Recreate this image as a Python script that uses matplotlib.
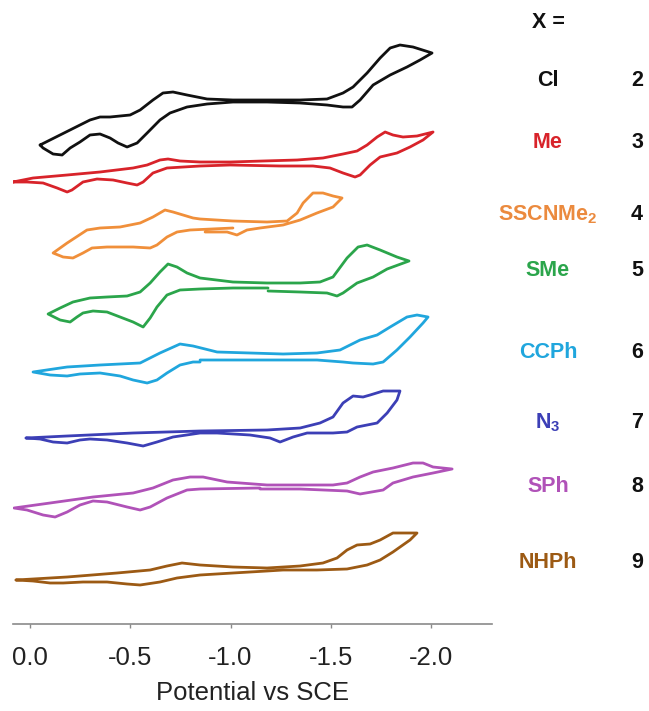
import matplotlib
matplotlib.use("Agg")
import matplotlib.pyplot as plt

plt.rcParams['font.family'] = ['Liberation Sans', 'DejaVu Sans']
plt.rcParams['mathtext.fontset'] = 'custom'
plt.rcParams['mathtext.rm'] = 'Liberation Sans:bold'
plt.rcParams['mathtext.bf'] = 'Liberation Sans:bold'

# ---- data: potential (V vs SCE) and current (arbitrary units, relative to each trace's baseline)
cl_E = [-0.050, -0.299, -0.349, -0.399, -0.499, -0.549, -0.613, -0.663, -0.713, -0.783, -0.883, -1.012, -1.182,
        -1.347, -1.481, -1.561, -1.611, -1.681, -1.746, -1.796, -1.845, -1.910, -2.005,
        -1.945, -1.880, -1.796, -1.711, -1.646, -1.606, -1.561, -1.481, -1.347, -1.182, -1.012, -0.883, -0.783,
        -0.698, -0.648, -0.584, -0.534, -0.484, -0.439, -0.399, -0.349, -0.299, -0.249, -0.200, -0.160, -0.115,
        -0.065, -0.050]
cl_I = [-44, -19, -16, -16, -14, -9, 1, 8, 9, 6, 2, 1, 1,
        1, 2, 8, 14, 28, 43, 53, 56, 54, 48,
        41, 34, 26, 16, 1, -6, -6, -4, -2, -1, -1, -3, -6,
        -12, -19, -32, -42, -46, -42, -37, -33, -34, -41, -47, -54, -53,
        -47, -44]

me_E = [0.085, -0.015, -0.185, -0.349, -0.514, -0.584, -0.648, -0.688, -0.748, -0.848, -0.998, -1.162, -1.332,
        -1.461, -1.561, -1.631, -1.681, -1.731, -1.771, -1.810, -1.860, -1.930, -2.010,
        -1.960, -1.895, -1.830, -1.746, -1.696, -1.646, -1.621, -1.561, -1.496, -1.411, -1.247, -0.998, -0.848,
        -0.683, -0.613, -0.564, -0.534, -0.484, -0.414, -0.334, -0.264, -0.209, -0.185, -0.135, -0.065, 0.015,
        0.085]
me_I = [-19, -15, -12, -9, -5, -2, 3, 4, 2, 1, 1, 2, 3,
        5, 9, 12, 18, 26, 31, 28, 26, 27, 31,
        23, 16, 10, 6, -2, -12, -14, -10, -5, -3, -3, -2, -3,
        -5, -10, -19, -22, -20, -17, -16, -19, -27, -29, -25, -20, -19,
        -19]

sscnme2_E = [-0.873, -0.983, -1.032, -1.082, -1.147, -1.262, -1.347, -1.431, -1.511, -1.556,
             -1.511, -1.461, -1.411, -1.362, -1.332, -1.282, -1.182, -1.012, -0.848, -0.813, -0.713, -0.673,
             -0.613, -0.549, -0.449, -0.349, -0.284, -0.185, -0.115,
             -0.165, -0.214, -0.264, -0.309, -0.384, -0.514, -0.599, -0.633, -0.683, -0.733, -0.798, -1.012]
sscnme2_I = [-7, -7, -10, -5, -3, 0, 5, 12, 18, 27,
             29, 32, 32, 22, 12, 4, 3, 4, 6, 7, 13, 15,
             8, 2, -2, -3, -5, -18, -28,
             -32, -33, -28, -23, -22, -22, -23, -20, -12, -7, -5, -3]

sme_E = [-1.187, -1.347, -1.481, -1.531, -1.561, -1.631, -1.711, -1.781, -1.890,
         -1.830, -1.746, -1.681, -1.636, -1.581, -1.511, -1.446, -1.347, -1.182, -1.012, -0.848, -0.783, -0.733,
         -0.688, -0.648, -0.599, -0.549, -0.484, -0.384, -0.299, -0.214, -0.150, -0.090,
         -0.150, -0.200, -0.234, -0.264, -0.314, -0.384, -0.449, -0.514, -0.564, -0.599, -0.633, -0.683, -0.748,
         -0.848, -1.012, -1.187]
sme_I = [-5, -6, -7, -10, -7, 3, 9, 17, 25,
         29, 36, 41, 39, 28, 9, 4, 3, 3, 4, 8, 13, 19,
         22, 14, 3, -6, -10, -11, -12, -16, -22, -28,
         -34, -36, -31, -27, -25, -26, -31, -36, -41, -32, -21, -9, -4,
         -3, -2, -2]

ccph_E = [-0.848, -1.182, -1.431, -1.561, -1.611, -1.711, -1.761, -1.830, -1.895, -1.960, -1.985,
          -1.930, -1.880, -1.796, -1.731, -1.646, -1.546, -1.431, -1.262, -1.097, -0.933, -0.813, -0.748,
          -0.648, -0.549, -0.349, -0.185, -0.015,
          -0.100, -0.185, -0.249, -0.349, -0.449, -0.514, -0.584, -0.633, -0.683, -0.748, -0.813, -0.848]
ccph_I = [-3, -3, -3, -5, -6, -7, -5, 7, 20, 34, 40,
          42, 40, 30, 22, 17, 7, 4, 3, 4, 5, 11, 13,
          4, -6, -8, -10, -15,
          -18, -19, -17, -16, -19, -23, -26, -23, -16, -8, -5, -5]

n3_E = [0.020, -0.185, -0.514, -0.848, -1.182, -1.347, -1.446, -1.511, -1.561, -1.611, -1.661, -1.696,
        -1.761, -1.845,
        -1.830, -1.781, -1.731, -1.631, -1.581, -1.511, -1.382, -1.312, -1.247, -1.197, -1.097, -0.933,
        -0.848, -0.713, -0.633, -0.564, -0.484, -0.384, -0.299, -0.249, -0.185, -0.115, -0.050, 0.020]
n3_I = [-6, -4, -1, 1, 2, 4, 9, 15, 29, 36, 35, 37,
        41, 41,
        32, 19, 9, 5, 0, -1, -1, -5, -10, -6, -3, -1,
        -1, -5, -10, -14, -11, -8, -7, -8, -11, -10, -7, -6]

sph_E = [-1.147, -1.347, -1.581, -1.646, -1.761, -1.810, -1.910, -2.010, -2.105,
         -2.010, -1.960, -1.910, -1.810, -1.711, -1.646, -1.581, -1.511, -1.182, -0.983, -0.863, -0.798,
         -0.713, -0.613, -0.514, -0.314, -0.100, 0.080,
         0.015, -0.065, -0.125, -0.185, -0.249, -0.314, -0.384, -0.484, -0.549, -0.599, -0.683, -0.783,
         -0.848, -1.147]
sph_I = [-2, -2, -4, -7, -3, 4, 10, 14, 18,
         20, 24, 24, 19, 15, 10, 4, 2, 2, 5, 10, 10,
         7, -1, -6, -10, -16, -21,
         -23, -28, -30, -25, -18, -14, -15, -20, -23, -20, -11, -3,
         -2, -1]

nhph_E = [0.070, -0.185, -0.434, -0.599, -0.683, -0.758, -0.848, -1.012, -1.182, -1.347, -1.461, -1.531,
          -1.581, -1.631, -1.696, -1.746, -1.810, -1.860, -1.930,
          -1.895, -1.810, -1.746, -1.681, -1.581, -1.431, -1.262, -1.182, -1.012, -0.848, -0.733, -0.648,
          -0.549, -0.484, -0.384, -0.264, -0.165, -0.100, -0.015, 0.070]
nhph_I = [-11, -8, -4, -1, 3, 6, 4, 2, 1, 3, 6, 11,
          19, 24, 25, 29, 36, 36, 36,
          29, 17, 9, 4, 0, -1, -1, -2, -4, -6, -9, -13,
          -16, -15, -13, -13, -14, -14, -12, -11]

substituents = ["Cl", "Me", r"SSCNMe$_{\mathbf{2}}$", "SMe", "CCPh", r"N$_{\mathbf{3}}$", "SPh", "NHPh"]
compounds = ["2", "3", "4", "5", "6", "7", "8", "9"]
tick_values = [0.0, -0.5, -1.0, -1.5, -2.0]
tick_labels = ["0.0", "-0.5", "-1.0", "-1.5", "-2.0"]

# ---- layout / style
traces = [(cl_E, cl_I), (me_E, me_I), (sscnme2_E, sscnme2_I), (sme_E, sme_I),
          (ccph_E, ccph_I), (n3_E, n3_I), (sph_E, sph_I), (nhph_E, nhph_I)]
offsets = [523, 461, 399, 338, 267, 192, 137, 55]
colors = ['#111111', '#d8232a', '#f08f3a', '#2ba54b', '#20a6dd', '#3c3fb6', '#b052b8', '#9c5a14']
label_colors = ['#111111', '#d8232a', '#eb8a3e', '#2ba54b', '#20a6dd', '#3c3fb6', '#b052b8', '#9c5a14']
label_y_px = [80, 143, 215, 270, 352, 423, 487, 562]

W, H = 649, 711
fig = plt.figure(figsize=(W / 100, H / 100), dpi=100)
ax = fig.add_axes([13 / W, (H - 624) / H, (492 - 13) / W, 624 / H])

for (E, I), off, c in zip(traces, offsets, colors):
    ax.plot(E, [off + v for v in I], color=c, lw=2.0, solid_joinstyle='round', solid_capstyle='round')

ax.set_xlim(0.085, -2.304)
ax.set_ylim(0, 624)
for s in ['left', 'right', 'top']:
    ax.spines[s].set_visible(False)
ax.spines['bottom'].set_color('#8a8a8a')
ax.spines['bottom'].set_linewidth(1.2)
ax.set_yticks([])
ax.set_xticks(tick_values)
ax.set_xticklabels(tick_labels)
ax.tick_params(axis='x', direction='out', length=3, width=1, color='#8a8a8a',
               labelsize=18.5, labelcolor='#222222', pad=13)
ax.set_xlabel("Potential vs SCE", fontsize=18.5, color='#222222', labelpad=8)

fig.text(548 / W, 1 - 22 / H, "X =", ha='center', va='center', fontsize=15.5, fontweight='bold', color='#111111')
for name, num, col, ypx in zip(substituents, compounds, label_colors, label_y_px):
    fig.text(548 / W, 1 - ypx / H, name, ha='center', va='center', fontsize=15.5, fontweight='bold', color=col)
    fig.text(637 / W, 1 - ypx / H, num, ha='center', va='center', fontsize=15.5, fontweight='bold', color='#111111')

fig.savefig("out.png", dpi=100)
